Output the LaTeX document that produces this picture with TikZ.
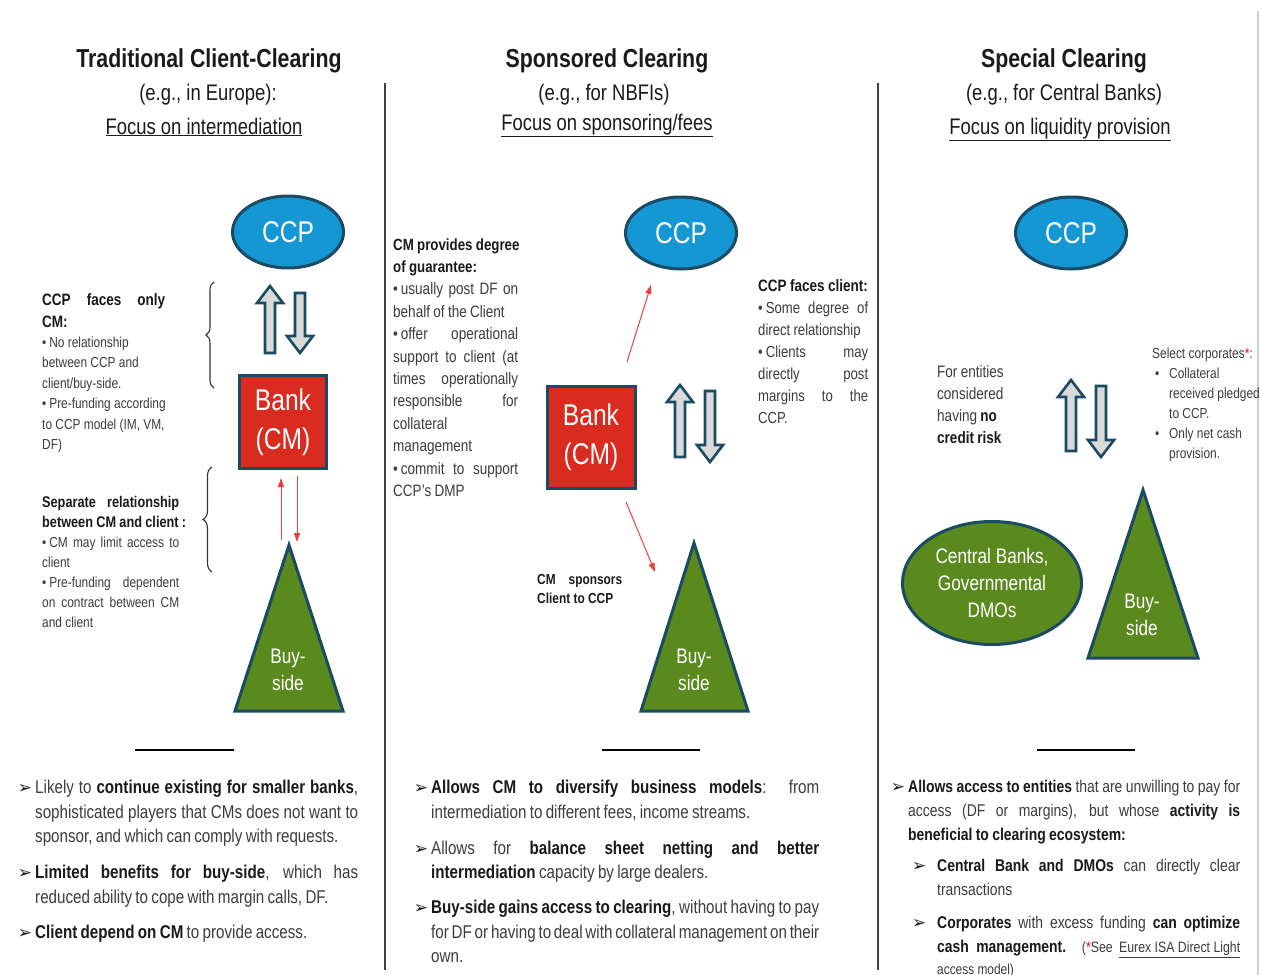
\documentclass[tikz,border=0pt]{standalone}
\usepackage{fontspec}
\setmainfont{Liberation Sans}[FakeStretch=0.82]
\newfontfamily\dejavu{DejaVu Sans}
\usetikzlibrary{shapes.geometric,arrows.meta,decorations.pathreplacing}
\definecolor{ccpblue}{HTML}{1597D4}
\definecolor{edge}{HTML}{1B4A63}
\definecolor{bankred}{HTML}{D92B1F}
\definecolor{grn}{HTML}{5A8A1E}
\definecolor{arrgray}{HTML}{DADADA}
\definecolor{thinred}{HTML}{E8413A}
\definecolor{tgray}{HTML}{3C3C3C}
\definecolor{ink}{HTML}{1A1A1A}
\newcommand\JL[1]{\hbox to\hsize{\spaceskip=0pt\xspaceskip=0pt #1}\par}
\newcommand\NL[1]{\hbox{#1}\par}
\newcommand\bt[1]{\textbf{\color{ink}#1}}
\newcommand\bul{•\kern3pt}
\newcommand\arr{{\dejavu\fontsize{17}{17}\selectfont\color{ink}➢}}
\newcommand\fs[2]{\fontsize{#1}{#2}\selectfont}
\begin{document}
\begin{tikzpicture}[x=1pt,y=-1pt,
  sep/.style={draw=black!75,line width=1.2pt},
  hrule/.style={draw=black,line width=2.5pt},
  ccp/.style={ellipse,draw=edge,line width=3pt,fill=ccpblue,minimum width=111,minimum height=72,inner sep=0,text=white,font=\fs{30}{30}},
  bank/.style={rectangle,draw=edge,line width=3pt,fill=bankred,inner sep=0,text=white,align=center,font=\fs{30}{39}},
  tri/.style={draw=edge,line width=3pt,fill=grn,line join=miter},
  tritext/.style={text=white,align=center,font=\fs{21}{27},inner sep=0},
  blockarr/.style={draw=edge,line width=2.6pt,fill=arrgray,line join=miter},
  redarr/.style={draw=thinred,line width=1pt,-{Triangle[length=9pt,width=6pt]}},
  brc/.style={draw=black!80,line width=1.1pt,decorate},
  title/.style={anchor=base,inner sep=0,text=ink,font=\bfseries\fs{26}{30}},
  sub/.style={anchor=base,inner sep=0,text=ink,font=\fs{22.5}{26}},
  txt/.style={anchor=base west,inner sep=0,text=tgray,align=left}
]
\useasboundingbox (0,0) rectangle (1262,975);
\fill[white] (0,0) rectangle (1262,975);

% separators
\draw[sep] (385,83) -- (385,970);
\draw[sep] (878,83) -- (878,970);
\draw[draw=black!18,line width=1.5pt] (1258,11) -- (1258,975);

% titles
\node[title] (t1) at (209,67) {Traditional Client-Clearing};
\node[sub] (s1) at (208,100) {(e.g., in Europe):};
\node[sub] (f1) at (204,134) {\underline{Focus on intermediation}};
\node[title] (t2) at (607,67) {Sponsored Clearing};
\node[sub] (s2) at (604,100) {(e.g., for NBFIs)};
\node[sub] (f2) at (607,130) {\underline{Focus on sponsoring/fees}};
\node[title] (t3) at (1064,67) {Special Clearing};
\node[sub] (s3) at (1064,100) {(e.g., for Central Banks)};
\node[sub] (f3) at (1060,134) {\underline{Focus on liquidity provision}};

% ---------- left column ----------
\node[ccp] (ccp1) at (288,232) {CCP};
\node[bank,minimum width=87,minimum height=93] (bank1) at (283,422) {Bank\\(CM)};
\draw[blockarr] (265,353) -- (265,303) -- (257,303) -- (270,286) -- (283,303) -- (275,303) -- (275,353) -- cycle;
\draw[blockarr] (295,293) -- (305,293) -- (305,336) -- (313,336) -- (300,353) -- (287,336) -- (295,336) -- cycle;
\draw[tri] (289,545) -- (343,711) -- (235,711) -- cycle;
\node[tritext] (buy1) at (288,670) {Buy-\\side};
\coordinate (r1a) at (281,540);
\coordinate (r1b) at (281,478);
\coordinate (r2a) at (297,476);
\coordinate (r2b) at (297,542);
\draw[redarr] (r1a) -- (r1b);
\draw[redarr] (r2a) -- (r2b);
\draw[brc,decoration={brace,amplitude=8pt}] (214,388) -- (214,282);
\draw[brc,decoration={brace,amplitude=9pt}] (212,572) -- (212,467);

\node[txt,text width=123] (l1) at (42,305) {\fs{16.5}{22}%
\JL{\bt{CCP faces only}}\NL{\bt{CM:}}\fs{14.5}{20.4}%
\NL{\bul No relationship}\NL{between CCP and}\NL{client/buy-side.}%
\NL{\bul Pre-funding according}\NL{to CCP model (IM, VM,}\NL{DF)}};

\node[txt,text width=137] (l2) at (42,507.5) {\fs{15.5}{20}%
\JL{\bt{Separate relationship}}\NL{\bt{between CM and client :}}\fs{14.5}{20}%
\JL{\bul CM may limit access to}\NL{client}%
\JL{\bul Pre-funding dependent}\JL{on contract between CM}\NL{and client}};

% ---------- middle column ----------
\node[ccp] (ccp2) at (681,233) {CCP};
\node[bank,minimum width=88,minimum height=102] (bank2) at (591,437) {Bank\\(CM)};
\draw[blockarr] (675,457) -- (675,402) -- (667,402) -- (680,385) -- (693,402) -- (685,402) -- (685,457) -- cycle;
\draw[blockarr] (705,391) -- (715,391) -- (715,445) -- (723,445) -- (710,462) -- (697,445) -- (705,445) -- cycle;
\draw[tri] (694,543) -- (748,711) -- (641,711) -- cycle;
\node[tritext] (buy2) at (694,670) {Buy-\\side};
\coordinate (m1a) at (627,362);
\coordinate (m1b) at (651,285);
\coordinate (m2a) at (626,502);
\coordinate (m2b) at (655,572);
\draw[redarr] (m1a) -- (m1b);
\draw[redarr] (m2a) -- (m2b);

\node[txt,text width=125] (m1) at (393,250) {\fs{16.2}{22.4}%
\NL{\bt{CM provides degree}}\NL{\bt{of guarantee:}}\fs{16.5}{22.4}%
\JL{\bul usually post DF on}\NL{behalf of the Client}%
\JL{\bul offer operational}\JL{support to client (at}\JL{times operationally}\JL{responsible for}\NL{collateral}\NL{management}%
\JL{\bul commit to support}\NL{CCP’s DMP}};

\node[txt,text width=110] (m2) at (758,291) {\fs{16.5}{22}%
\NL{\bt{CCP faces client:}}\fs{16}{22}%
\JL{\bul Some degree of}\NL{direct relationship}%
\JL{\bul Clients may}\JL{directly post}\JL{margins to the}\NL{CCP.}};

\node[txt,text width=85] (m3) at (537,584) {\fs{14.5}{19}%
\JL{\bt{CM sponsors}}\NL{\bt{Client to CCP}}};

% ---------- right column ----------
\node[ccp] (ccp3) at (1071,233) {CCP};
\draw[blockarr] (1066,451) -- (1066,397) -- (1058,397) -- (1071,380) -- (1084,397) -- (1076,397) -- (1076,451) -- cycle;
\draw[blockarr] (1096,386) -- (1106,386) -- (1106,440) -- (1114,440) -- (1101,457) -- (1088,440) -- (1096,440) -- cycle;
\node[ellipse,draw=edge,line width=3pt,fill=grn,minimum width=179,minimum height=123,inner sep=0,text=white,align=center,font=\fs{21}{27}] (cb) at (992,583) {Central Banks,\\Governmental\\DMOs};
\draw[tri] (1143,490) -- (1198,658) -- (1088,658) -- cycle;
\node[tritext] (buy3) at (1142,615) {Buy-\\side};

\node[txt,text width=100] (r1) at (937,377) {\fs{16.5}{22}%
\NL{For entities}\NL{considered}\NL{having \bt{no}}\NL{\bt{credit risk}}};

\node[txt,text width=110] (r2) at (1152,358) {\fs{14.5}{20}%
\NL{Select corporates\textcolor{red}{*}:}%
\NL{\hbox to17pt{\hspace{3pt}•\hfil}Collateral}%
\NL{\hspace{17pt}received pledged}%
\NL{\hspace{17pt}to CCP.}%
\NL{\hbox to17pt{\hspace{3pt}•\hfil}Only net cash}%
\NL{\hspace{17pt}provision.}};

% ---------- bottom ----------
\draw[hrule] (135,750) -- (234,750);
\draw[hrule] (602,750) -- (700,750);
\draw[hrule] (1037,750) -- (1135,750);

\node[txt,text width=323] (b1) at (35,793.5) {\fs{18.5}{24.5}%
\JL{\llap{\arr\hspace{3pt}}Likely to \bt{continue existing for smaller banks},}%
\JL{sophisticated players that CMs does not want to}%
\NL{sponsor, and which can comply with requests.}%
\vspace{11.5pt}%
\JL{\llap{\arr\hspace{3pt}}\bt{Limited benefits for buy-side}, which has}%
\NL{reduced ability to cope with margin calls, DF.}%
\vspace{10.5pt}%
\NL{\llap{\arr\hspace{3pt}}\bt{Client depend on CM} to provide access.}};

\node[txt,text width=388] (b2) at (431,793.5) {\fs{18.5}{24.5}%
\JL{\llap{\arr\hspace{3pt}}\bt{Allows CM to diversify business models}: from}%
\NL{intermediation to different fees, income streams.}%
\vspace{11.5pt}%
\JL{\llap{\arr\hspace{3pt}}Allows for \bt{balance sheet netting and better}}%
\NL{\bt{intermediation} capacity by large dealers.}%
\vspace{10.5pt}%
\JL{\llap{\arr\hspace{3pt}}\bt{Buy-side gains access to clearing}, without having to pay}%
\JL{for DF or having to deal with collateral management on their}%
\NL{own.}};

\node[txt,text width=332] (b3) at (908,792.5) {\fs{17}{24}%
\JL{\llap{\arr\hspace{3pt}}\bt{Allows access to entities} that are unwilling to pay for}%
\JL{access (DF or margins), but whose \bt{activity is}}%
\NL{\bt{beneficial to clearing ecosystem:}}%
\vspace{7pt}%
\JL{\hbox to29pt{\hspace{4pt}\arr\hfil}\bt{Central Bank and DMOs} can directly clear}%
\NL{\hspace{29pt}transactions}%
\vspace{9pt}%
\JL{\hbox to29pt{\hspace{4pt}\arr\hfil}\bt{Corporates} with excess funding \bt{can optimize}}%
\JL{\hspace{29pt}\bt{cash management.} {\fs{15}{16}(\textcolor{red}{*}See \underline{Eurex ISA Direct Light}}}%
\fs{14.5}{22}\NL{\hspace{29pt}access model)}};
\end{tikzpicture}
\end{document}
